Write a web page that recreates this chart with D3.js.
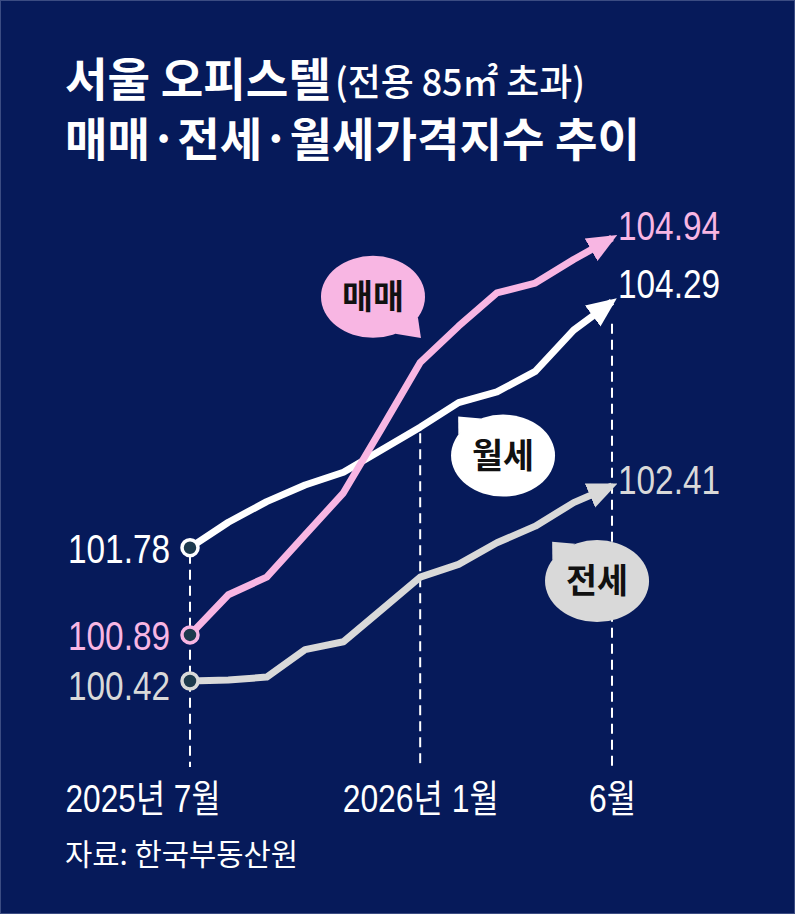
<!DOCTYPE html>
<html>
<head>
<meta charset="utf-8">
<script src="https://cdn.jsdelivr.net/npm/d3@7"></script>
<style>
  html, body { margin: 0; padding: 0; background: #061a5a; }
</style>
</head>
<body>
<div id="chart"></div>
<script>
// 서울 오피스텔(85㎡ 초과) 가격지수, 2025년 7월 ~ 2026년 6월
var months = ["2025-07","2025-08","2025-09","2025-10","2025-11","2025-12",
              "2026-01","2026-02","2026-03","2026-04","2026-05","2026-06"];
var saleIdx   = [100.89, 101.30, 101.48, 101.91, 102.34, 103.00, 103.67, 104.04, 104.38, 104.48, 104.72, 104.94];
var rentIdx   = [101.78, 102.04, 102.25, 102.42, 102.55, 102.78, 103.01, 103.26, 103.37, 103.58, 104.00, 104.29];
var jeonseIdx = [100.42, 100.43, 100.46, 100.74, 100.82, 101.15, 101.48, 101.61, 101.83, 102.00, 102.24, 102.41];
var tickMonths = ["2025-07","2026-01","2026-06"];
var tickLabels = ["2025년 7월","2026년 1월","6월"];
var seriesNames = ["매매","월세","전세"];
// bubble anchors in data space: [month position, index value]
var bubbleCenters = [[4.77, 104.34], [8.16, 102.72], [10.61, 101.44]];
var bubbleTips    = [[6.02, 103.92], [6.99, 103.12], [9.44, 101.84]];

var W = 795, H = 914;
var numFont = "'Liberation Sans', Arial, 'Noto Sans CJK KR', sans-serif";
var korFont = "'Noto Sans CJK KR', 'Noto Sans', sans-serif";

var series = [
  { name: seriesNames[0], values: saleIdx,   color: "#f8b6e3", labelDy: 2,  startDy: 15 },
  { name: seriesNames[1], values: rentIdx,   color: "#ffffff", labelDy: -4, startDy: 15 },
  { name: seriesNames[2], values: jeonseIdx, color: "#d9d9d9", labelDy: 8,  startDy: 19 }
];
// draw order: 전세 bottom, 월세, 매매 top
var drawOrder = [series[2], series[1], series[0]];

var svg = d3.select("#chart").append("svg")
    .attr("width", W).attr("height", H)
    .style("display", "block");

svg.append("rect").attr("x", 0.5).attr("y", 0.5)
    .attr("width", W - 1).attr("height", H - 1)
    .attr("fill", "#061a5a").attr("stroke", "#3b4c82");

var x = d3.scaleLinear().domain([0, months.length - 1]).range([190, 612]);
var y = d3.scaleLinear().domain([100.42, 104.94]).range([681, 238]);

// title
var title = svg.append("g").attr("fill", "#fff").attr("font-weight", "bold");
title.append("text").text("서울 오피스텔")
    .attr("x", 65).attr("y", 96)
    .attr("font-family", korFont).attr("font-size", 46)
    .attr("textLength", 266).attr("lengthAdjust", "spacingAndGlyphs");
title.append("text").text("(전용 85㎡ 초과)")
    .attr("x", 335).attr("y", 96)
    .attr("font-family", korFont).attr("font-size", 37).attr("font-weight", 500)
    .attr("textLength", 250).attr("lengthAdjust", "spacingAndGlyphs");
title.append("text").text("매매·전세·월세가격지수 추이")
    .attr("x", 65).attr("y", 156)
    .attr("font-family", korFont).attr("font-size", 46)
    .attr("textLength", 575).attr("lengthAdjust", "spacingAndGlyphs");

// dashed guides
var guideG = svg.append("g");
tickMonths.forEach(function(m, i) {
  var k = months.indexOf(m);
  var top = y(rentIdx[k]) + (i === tickMonths.length - 1 ? 22 : 6);
  guideG.append("line")
    .attr("x1", x(k)).attr("x2", x(k))
    .attr("y1", top).attr("y2", 767)
    .attr("stroke", "#fff").attr("stroke-width", 2)
    .attr("stroke-dasharray", "10,6");
});

// arrow markers
var defs = svg.append("defs");
series.forEach(function(s, i) {
  defs.append("marker")
    .attr("id", "arrow" + i)
    .attr("markerUnits", "userSpaceOnUse")
    .attr("viewBox", "0 -14 30 28")
    .attr("refX", 24).attr("refY", 0)
    .attr("markerWidth", 30).attr("markerHeight", 28)
    .attr("orient", "auto")
    .append("path")
      .attr("d", "M0,-13L30,0L0,13Z")
      .attr("fill", s.color);
});

var line = d3.line()
    .x(function(d, i) { return x(i); })
    .y(function(d) { return y(d); });

var lineG = svg.append("g");
drawOrder.forEach(function(s) {
  var i = series.indexOf(s);
  lineG.append("path")
    .datum(s.values)
    .attr("d", line)
    .attr("fill", "none")
    .attr("stroke", s.color)
    .attr("stroke-width", 7)
    .attr("stroke-linejoin", "round")
    .attr("marker-end", "url(#arrow" + i + ")");
});

// start circles
drawOrder.forEach(function(s) {
  svg.append("circle")
    .attr("cx", x(0)).attr("cy", y(s.values[0]))
    .attr("r", 8)
    .attr("fill", "#1d3a4d")
    .attr("stroke", s.color).attr("stroke-width", 3.5);
});

// start / end value labels
series.forEach(function(s) {
  svg.append("text")
    .text(d3.format(".2f")(s.values[0]))
    .attr("x", 170).attr("y", y(s.values[0]) + s.startDy)
    .attr("text-anchor", "end")
    .attr("font-family", numFont).attr("font-size", 40)
    .attr("textLength", 102).attr("lengthAdjust", "spacingAndGlyphs")
    .attr("fill", s.color);
  var n = s.values.length - 1;
  svg.append("text")
    .text(d3.format(".2f")(s.values[n]))
    .attr("x", x(n) + 6).attr("y", y(s.values[n]) + s.labelDy)
    .attr("font-family", numFont).attr("font-size", 40)
    .attr("textLength", 102).attr("lengthAdjust", "spacingAndGlyphs")
    .attr("fill", s.color);
});

// speech bubbles
var rx = 52, ry = 41;
series.forEach(function(s, i) {
  var cx = x(bubbleCenters[i][0]), cy = y(bubbleCenters[i][1]);
  var tx = x(bubbleTips[i][0]), ty = y(bubbleTips[i][1]);
  var th = Math.atan2((ty - cy) / ry, (tx - cx) / rx);
  var a1 = th - 0.3, a2 = th + 0.3;
  var g = svg.append("g");
  g.append("path")
    .attr("d", "M" + (cx + rx * Math.cos(a1)) + "," + (cy + ry * Math.sin(a1)) +
               "L" + tx + "," + ty +
               "L" + (cx + rx * Math.cos(a2)) + "," + (cy + ry * Math.sin(a2)) + "Z")
    .attr("fill", s.color);
  g.append("ellipse")
    .attr("cx", cx).attr("cy", cy).attr("rx", rx).attr("ry", ry)
    .attr("fill", s.color);
  g.append("text").text(s.name)
    .attr("x", cx).attr("y", cy + 12)
    .attr("text-anchor", "middle")
    .attr("font-family", korFont).attr("font-weight", "bold").attr("font-size", 34)
    .attr("textLength", 62).attr("lengthAdjust", "spacingAndGlyphs")
    .attr("fill", "#111");
});

// x axis
var tickWidths = [155, 156, 47];
var xAxis = d3.axisBottom(x)
    .tickValues(tickMonths.map(function(m) { return months.indexOf(m); }))
    .tickFormat(function(d) { return tickLabels[tickMonths.indexOf(months[d])]; })
    .tickSize(0);
var axG = svg.append("g").attr("transform", "translate(0,770)").call(xAxis);
axG.select(".domain").remove();
axG.selectAll("text")
    .attr("y", 42).attr("dy", 0)
    .attr("fill", "#fff")
    .attr("font-family", numFont).attr("font-size", 38)
    .attr("textLength", function(d, i) { return tickWidths[i]; })
    .attr("lengthAdjust", "spacingAndGlyphs")
    .attr("text-anchor", function(d, i) { return i === 0 ? "start" : "middle"; })
    .attr("x", function(d, i) { return i === 0 ? 65 - x(d) : 0; });

// source
svg.append("text").text("자료: 한국부동산원")
    .attr("x", 65).attr("y", 865)
    .attr("font-family", korFont).attr("font-size", 30)
    .attr("textLength", 233).attr("lengthAdjust", "spacingAndGlyphs")
    .attr("fill", "#fff");
</script>
</body>
</html>
